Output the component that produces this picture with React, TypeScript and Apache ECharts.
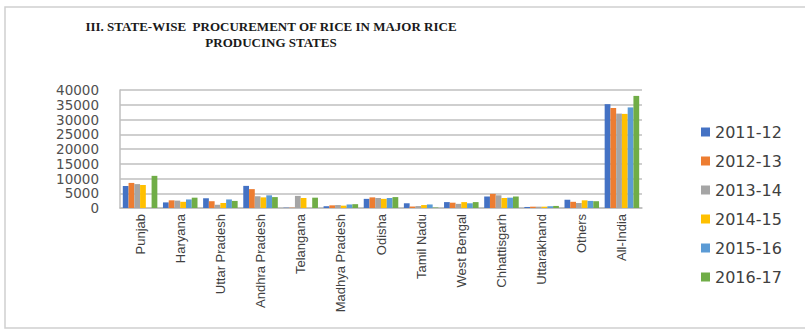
import React, { useEffect, useRef } from "react";
import * as echarts from "echarts";

const categories = [
  "Punjab",
  "Haryana",
  "Uttar Pradesh",
  "Andhra Pradesh",
  "Telangana",
  "Madhya Pradesh",
  "Odisha",
  "Tamil Nadu",
  "West Bengal",
  "Chhattisgarh",
  "Uttarakhand",
  "Others",
  "All-India",
];

const seriesNames = ["2011-12", "2012-13", "2013-14", "2014-15", "2015-16", "2016-17"];

const v2011 = [7500, 1900, 3300, 7500, 100, 600, 3100, 1600, 2000, 3900, 350, 2800, 35200];
const v2012 = [8500, 2600, 2300, 6400, 100, 900, 3600, 500, 1800, 4800, 450, 2100, 33900];
const v2013 = [8100, 2500, 1100, 4000, 4100, 1000, 3400, 650, 1400, 4300, 450, 1700, 32000];
const v2014 = [7800, 2100, 1700, 3600, 3400, 800, 3100, 1000, 2000, 3400, 450, 2600, 31900];
const v2015 = [0, 2900, 2900, 4300, 0, 1200, 3400, 1200, 1600, 3500, 600, 2400, 34100];
const v2016 = [10900, 3500, 2400, 3700, 3500, 1300, 3700, 150, 2000, 3900, 700, 2300, 38000];

const seriesValues = [v2011, v2012, v2013, v2014, v2015, v2016];
const colors = ["#4472C4", "#ED7D31", "#A5A5A5", "#FFC000", "#5B9BD5", "#70AD47"];

export default function App() {
  const ref = useRef<HTMLDivElement>(null);
  useEffect(() => {
    document.body.style.margin = "0";
    if (!ref.current) return;
    const chart = echarts.init(ref.current, undefined, { renderer: "svg" });
    chart.setOption({
      animation: false,
      backgroundColor: "#ffffff",
      color: colors,
      title: {
        text: "III. STATE-WISE  PROCUREMENT OF RICE IN MAJOR RICE\nPRODUCING STATES",
        left: 266,
        top: 13,
        textAlign: "center",
        textStyle: {
          fontFamily: "Liberation Serif",
          fontWeight: "bold",
          fontSize: 13,
          lineHeight: 16,
          color: "#1a1a1a",
        },
      },
      graphic: [
        {
          type: "rect",
          shape: { x: 5, y: 7, width: 900, height: 321 },
          style: { fill: "none", stroke: "#d0d0d0", lineWidth: 1.5 },
          silent: true,
        },
      ],
      legend: {
        orient: "vertical",
        left: 696,
        top: 119,
        itemWidth: 9,
        itemHeight: 9,
        itemGap: 13,
        icon: "rect",
        textStyle: { fontFamily: "DejaVu Sans", fontSize: 16, color: "#404040" },
        data: seriesNames,
      },
      grid: { left: 120, right: 163, top: 90, bottom: 123 },
      xAxis: {
        type: "category",
        data: categories,
        axisTick: { show: false },
        axisLine: { lineStyle: { color: "#bfbfbf", width: 1.5 } },
        axisLabel: {
          rotate: 90,
          margin: 6,
          interval: 0,
          fontFamily: "Liberation Sans",
          fontSize: 13,
          color: "#404040",
        },
      },
      yAxis: {
        type: "value",
        min: 0,
        max: 40000,
        interval: 5000,
        axisLine: { show: true, lineStyle: { color: "#bfbfbf", width: 1.5 } },
        axisTick: { show: false },
        splitLine: { lineStyle: { color: "#cfcfcf", width: 2 } },
        axisLabel: {
          margin: 21,
          fontFamily: "DejaVu Sans",
          fontSize: 13.5,
          lineHeight: 13,
          color: "#505050",
          showMinLabel: true,
          showMaxLabel: true,
          hideOverlap: false,
          formatter: (v: number) => String(v),
        },
      },
      series: seriesNames.map((name, i) => ({
        name,
        type: "bar",
        data: seriesValues[i],
        barGap: "0%",
        barCategoryGap: "14%",
        itemStyle: { color: colors[i] },
      })),
    });
    return () => chart.dispose();
  }, []);
  return <div ref={ref} style={{ width: 805, height: 331 }} />;
}
